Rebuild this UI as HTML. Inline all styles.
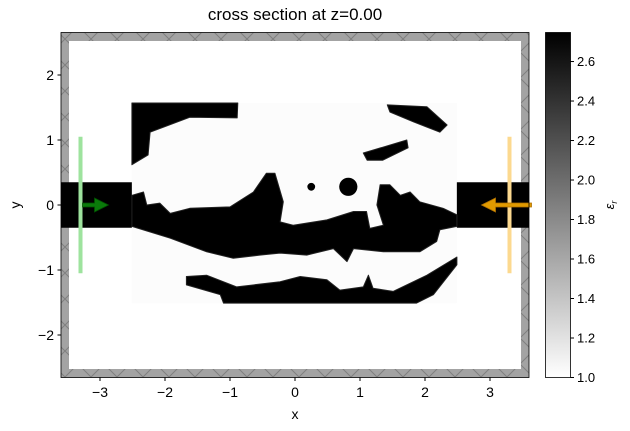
<!DOCTYPE html>
<html><head><meta charset="utf-8"><style>
html,body{margin:0;padding:0;background:#fff;}
svg{display:block;font-family:"Liberation Sans","DejaVu Sans",sans-serif;}
</style></head><body>
<svg id="c" width="630" height="431" viewBox="0 0 630 431" xmlns="http://www.w3.org/2000/svg">
<defs>
<linearGradient id="cbg" x1="0" y1="1" x2="0" y2="0"><stop offset="0" stop-color="#fff"/><stop offset="1" stop-color="#000"/></linearGradient>
<pattern id="hatch" width="26" height="26" patternUnits="userSpaceOnUse"><path d="M0 0L13 13L26 0M0 26L13 13L26 26" stroke="#808080" stroke-width="1" fill="none"/></pattern>
<clipPath id="pc"><rect x="61" y="32.5" width="468" height="345"/></clipPath>
</defs>
</svg>
<script>
const xTicks=[-3,-2,-1,0,1,2,3];
const yTicks=[-2,-1,0,1,2];
const cbTicks=[1.0,1.2,1.4,1.6,1.8,2.0,2.2,2.4,2.6];
const epsMin=1.0, epsMax=2.747;
const waveguides=[[-3.6,-2.51,-0.35,0.35],[2.49,3.6,-0.35,0.35]];
const blobTopLeft=[[-2.51,1.57],[-0.88,1.57],[-0.89,1.34],[-1.62,1.35],[-2.23,1.12],[-2.26,0.77],[-2.51,0.62]];
const blobTopRight=[[1.42,1.54],[2.03,1.51],[2.34,1.23],[2.23,1.12],[1.82,1.28],[1.46,1.43]];
const blobOval=[[1.05,0.8],[1.72,1.0],[1.74,0.88],[1.35,0.69],[1.11,0.69]];
const dots=[[0.25,0.28,0.06],[0.82,0.28,0.14]];
const blobMain=[[-2.51,0.15],[-2.33,0.2],[-2.28,0],[-2.08,0.03],[-1.92,-0.13],[-1.62,-0.05],[-1.0,-0.03],[-0.64,0.2],[-0.44,0.49],[-0.31,0.49],[-0.18,0.05],[-0.23,-0.26],[-0.03,-0.31],[0.49,-0.23],[0.9,-0.1],[1.1,-0.1],[1.15,-0.36],[1.36,-0.31],[1.26,0],[1.31,0.31],[1.46,0.31],[1.62,0.15],[1.77,0.2],[1.92,0.05],[2.28,-0.05],[2.49,-0.15],[2.49,-0.33],[2.23,-0.38],[2.18,-0.56],[1.92,-0.72],[1.36,-0.72],[0.9,-0.67],[0.8,-0.87],[0.59,-0.67],[0.18,-0.77],[-0.23,-0.74],[-0.54,-0.77],[-0.95,-0.82],[-1.36,-0.72],[-1.92,-0.51],[-2.51,-0.33]];
const blobBottom=[[-1.67,-1.1],[-1.36,-1.08],[-0.9,-1.26],[-0.23,-1.18],[0.08,-1.1],[0.49,-1.15],[0.69,-1.31],[1.05,-1.26],[1.13,-1.08],[1.2,-1.28],[1.51,-1.33],[2.03,-1.08],[2.49,-0.8],[2.49,-0.92],[2.13,-1.38],[1.87,-1.51],[-1.1,-1.51],[-1.15,-1.38],[-1.67,-1.23]];
const sourceX=-3.3, monitorX=3.3, srcHalfLen=1.05;

const X=v=>295+v*65, Y=v=>205-v*65;
const CB=v=>377.5-(v-epsMin)/(epsMax-epsMin)*345;
const svg=document.getElementById('c');
const NS='http://www.w3.org/2000/svg';
function mk(tag,attrs,parent,text){const e=document.createElementNS(NS,tag);for(const k in attrs)e.setAttribute(k,attrs[k]);if(text!==undefined)e.textContent=text;(parent||svg).appendChild(e);return e;}

let e;
e=mk('rect',{x:61,y:32.5,width:468,height:345,fill:'#a3a3a3'});


mk('rect',{x:61,y:32.5,width:468,height:345,fill:'url(#hatch)'});
e=mk('rect',{x:69,y:41,width:452,height:328,fill:'#fff'});


e=mk('rect',{x:X(-2.51),y:Y(1.57),width:X(2.49)-X(-2.51),height:Y(-1.51)-Y(1.57),fill:'#fcfcfc'});


const g=mk('g',{'clip-path':'url(#pc)'});
waveguides.forEach(w=>{e=mk('rect',{x:X(w[0]),y:Y(w[3]),width:X(w[1])-X(w[0]),height:Y(w[2])-Y(w[3]),fill:'#000'},g);

});
[['blob-top-left',blobTopLeft],['blob-top-right',blobTopRight],['blob-oval',blobOval],['blob-main',blobMain],['blob-bottom',blobBottom]].forEach(([n,p])=>{
e=mk('polygon',{points:p.map(q=>X(q[0]).toFixed(1)+','+Y(q[1]).toFixed(1)).join(' '),fill:'#000',stroke:'#222','stroke-width':1,'stroke-linejoin':'round'},g);

});
dots.forEach(d=>{e=mk('circle',{cx:X(d[0]),cy:Y(d[1]),r:d[2]*65,fill:'#000'},g);

});
e=mk('line',{x1:X(sourceX),x2:X(sourceX),y1:Y(srcHalfLen),y2:Y(-srcHalfLen),stroke:'#9ee39e','stroke-width':4});


e=mk('path',{d:`M${X(sourceX)+2} ${Y(0)-2}H${X(sourceX)+14}V${Y(0)-7}L${X(sourceX)+28} ${Y(0)}L${X(sourceX)+14} ${Y(0)+7}V${Y(0)+2}H${X(sourceX)+2}Z`,fill:'#0a7a0a',stroke:'#005000','stroke-width':0.8});


e=mk('line',{x1:X(monitorX),x2:X(monitorX),y1:Y(srcHalfLen),y2:Y(-srcHalfLen),stroke:'#fcd98f','stroke-width':4});


const mx=X(monitorX);
e=mk('path',{d:`M${mx+22} ${Y(0)-2}H${mx-14}V${Y(0)-7}L${mx-28} ${Y(0)}L${mx-14} ${Y(0)+7}V${Y(0)+2}H${mx+22}Z`,fill:'#e09a00',stroke:'#b07000','stroke-width':0.8});


mk('rect',{x:61,y:32.5,width:468,height:345,fill:'none',stroke:'#000','stroke-width':0.8});
xTicks.forEach(t=>{mk('line',{x1:X(t),x2:X(t),y1:377.5,y2:381,stroke:'#000'});
e=mk('text',{x:X(t),y:397,'text-anchor':'middle','font-size':14},svg,t<0?'−'+(-t):String(t));

});
yTicks.forEach(t=>{mk('line',{x1:57.5,x2:61,y1:Y(t),y2:Y(t),stroke:'#000'});
e=mk('text',{x:54,y:Y(t)+5,'text-anchor':'end','font-size':14},svg,t<0?'−'+(-t):String(t));

});
e=mk('text',{x:295,y:20,'text-anchor':'middle','font-size':17},svg,'cross section at z=0.00');


e=mk('text',{x:295,y:419,'text-anchor':'middle','font-size':14},svg,'x');


e=mk('text',{x:20,y:205,'text-anchor':'middle','font-size':14,transform:'rotate(-90 20 205)'},svg,'y');


e=mk('rect',{x:545.5,y:32.5,width:25,height:345,fill:'url(#cbg)',stroke:'#000','stroke-width':0.8});


cbTicks.forEach(t=>{mk('line',{x1:570.5,x2:574,y1:CB(t),y2:CB(t),stroke:'#000'});
e=mk('text',{x:577,y:CB(t)+4.5,'font-size':13},svg,t.toFixed(1));

});
e=mk('text',{x:614,y:205,'text-anchor':'middle','font-size':13,'font-style':'italic',transform:'rotate(-90 614 205)'},svg,'ε');


mk('tspan',{'font-size':9,dy:3},e,'r');
</script>
</body></html>
